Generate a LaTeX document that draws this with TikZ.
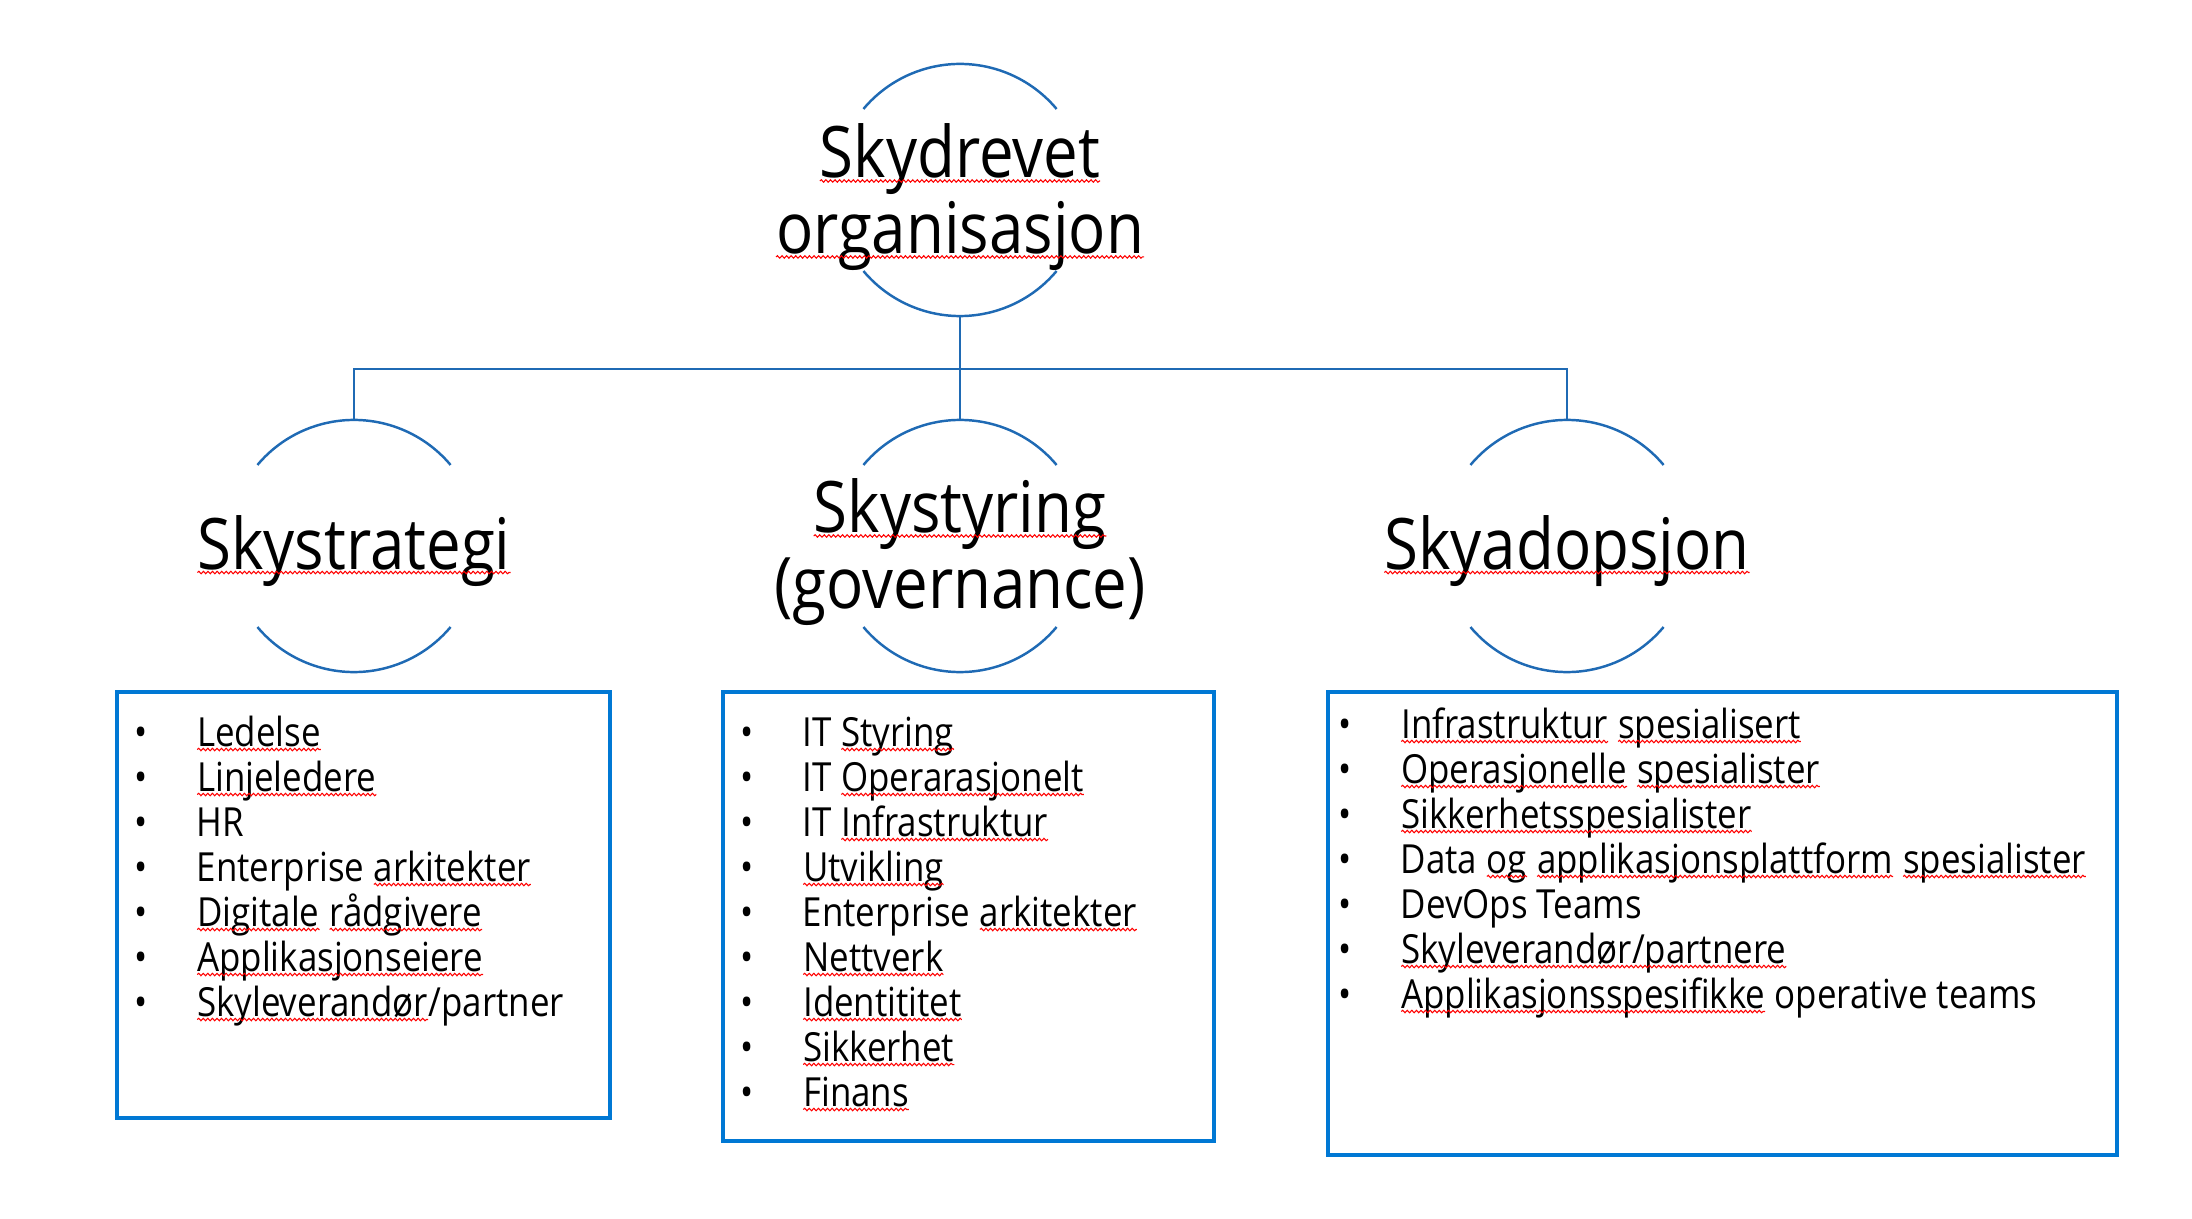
\documentclass[tikz,border=0pt]{standalone}
\usepackage{fontspec}
\setmainfont{Open Sans}[FakeStretch=0.87]
\usetikzlibrary{positioning,calc,decorations.pathmorphing}
\definecolor{ringblue}{RGB}{31,106,180}
\definecolor{boxblue}{RGB}{0,120,212}
\tikzset{
  ring/.style={circle,minimum size=2.52cm,inner sep=0pt,outer sep=0pt},
  ringline/.style={ringblue,line width=0.7pt},
  heading/.style={font=\fontsize{20.2}{21.6}\selectfont,inner sep=0pt},
  listbox/.style={draw=boxblue,line width=1.2pt,inner sep=0pt},
  item/.style={anchor=base west,inner sep=0pt,font=\fontsize{11.4}{12.8}\selectfont},
  spelling/.style={red,line width=0.3pt,decorate,decoration={snake,amplitude=0.35pt,segment length=1.3pt}}
}
% red spell check wave under a word
\newcommand\spell[1]{\tikz[baseline=(sw.base)]{\node[inner sep=0pt,outer sep=0pt,anchor=base] (sw) {#1};
  \draw[spelling] ([yshift=-1pt]sw.base west) -- ([yshift=-1pt]sw.base east);}}
\newcommand\bul{\makebox[0.55cm][l]{\hspace{-2pt}\textbullet}}
\begin{document}
\begin{tikzpicture}[x=0.01cm,y=0.01cm]
  \useasboundingbox (0,0) rectangle (2192,-1219);

  % rings
  \node[ring] (topring) at (960,-190) {};
  \node[ring] (stratring) at (354,-546) {};
  \node[ring] (styrring) at (960,-546) {};
  \node[ring] (adopring) at (1567,-546) {};
  \foreach \r in {topring,stratring,styrring,adopring}{
    \draw[ringline] (\r.40) arc[start angle=40,end angle=140,radius=1.26cm];
    \draw[ringline] (\r.220) arc[start angle=220,end angle=320,radius=1.26cm];
  }

  % connectors
  \coordinate (bus) at (960,-369);
  \draw[ringline] (topring.south) -- (styrring.north);
  \draw[ringline] (stratring.north) |- (bus) -| (adopring.north);

  % headings
  \node[heading,align=center] (toptext) at (960,-197) {\spell{Skydrevet}\\\spell{organisasjon}};
  \node[heading,anchor=base] (strattext) at (354,-569) {\spell{Skystrategi}};
  \node[heading,align=center] (styrtext) at (960,-552) {\spell{Skystyring}\\(governance)};
  \node[heading,anchor=base] (adoptext) at (1567,-569) {\spell{Skyadopsjon}};

  % boxes
  \node[listbox,minimum width=4.93cm,minimum height=4.26cm] (stratbox) at (363.5,-905) {};
  \node[listbox,minimum width=4.91cm,minimum height=4.49cm] (styrbox) at (968.5,-916.5) {};
  \node[listbox,minimum width=7.89cm,minimum height=4.63cm] (adopbox) at (1722.5,-923.5) {};

  \foreach \txt [count=\i] in {\spell{Ledelse},\spell{Linjeledere},HR,Enterprise \spell{arkitekter},
      \spell{Digitale} \spell{rådgivere},\spell{Applikasjonseiere},\spell{Skyleverandør}/partner}
    \node[item] (strat\i) at (141,{-701-45*\i}) {\bul\txt};

  \foreach \txt [count=\i] in {IT \spell{Styring},IT \spell{Operarasjonelt},IT \spell{Infrastruktur},
      \spell{Utvikling},Enterprise \spell{arkitekter},\spell{Nettverk},\spell{Identititet},
      \spell{Sikkerhet},\spell{Finans}}
    \node[item] (styr\i) at (747,{-701-45*\i}) {\bul\txt};

  \foreach \txt [count=\i] in {\spell{Infrastruktur} \spell{spesialisert},\spell{Operasjonelle} \spell{spesialister},
      \spell{Sikkerhetsspesialister},Data \spell{og} \spell{applikasjonsplattform} \spell{spesialister},
      DevOps Teams,\spell{Skyleverandør/partnere},\spell{Applikasjonsspesifikke} operative teams}
    \node[item] (adop\i) at (1345,{-693-45*\i}) {\bul\txt};
\end{tikzpicture}
\end{document}
